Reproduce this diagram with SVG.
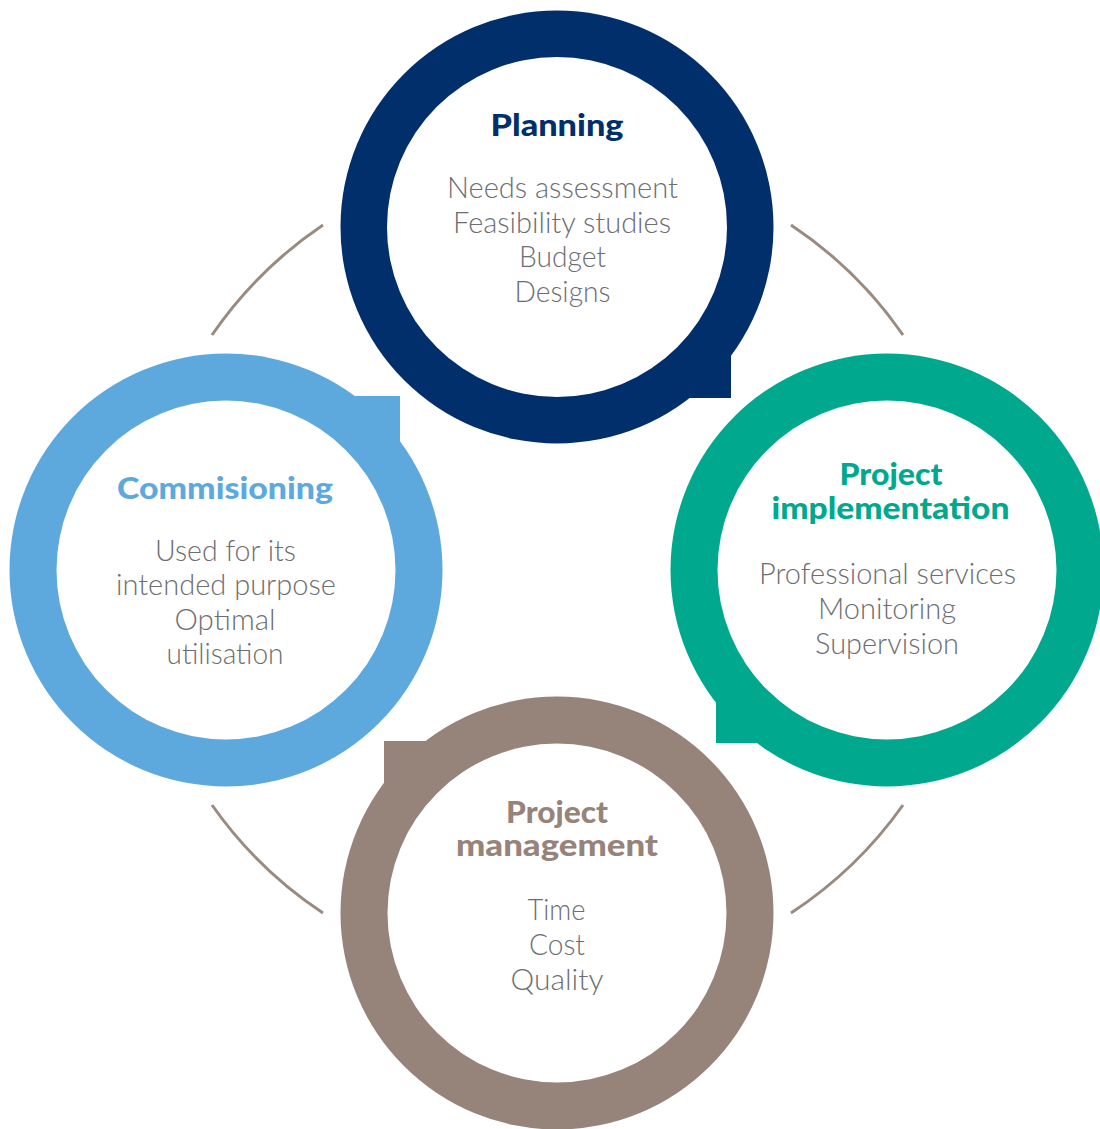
<svg xmlns="http://www.w3.org/2000/svg" width="1100" height="1129" viewBox="0 0 1100 1129">
<style>
.body{font-family:Lato,"Liberation Sans",sans-serif;font-size:29px;font-weight:300;fill:#6d6e71;text-anchor:middle}
.title{font-family:Lato,"Liberation Sans",sans-serif;font-size:30px;font-weight:900;text-anchor:middle}
.arc{fill:none;stroke:#9a8a80;stroke-width:3}
</style>
<rect width="1100" height="1129" fill="#ffffff"/>
<g id="connectors">
<path class="arc" d="M212,335 A417,417 0 0 1 323,225"/>
<path class="arc" d="M791,225 A417,417 0 0 1 903,335"/>
<path class="arc" d="M903,805 A417,417 0 0 1 791,913"/>
<path class="arc" d="M323,913 A417,417 0 0 1 212,805"/>
</g>
<g id="planning">
<circle cx="557" cy="227" r="216.5" fill="#002f6c"/>
<rect x="557" y="227" width="174" height="171" fill="#002f6c"/>
<circle cx="557" cy="227" r="170" fill="#fff"/>
<text class="title" x="557" y="136" fill="#002f6c" textLength="133" lengthAdjust="spacingAndGlyphs">Planning</text>
<text class="body" x="562.5" y="198" textLength="231" lengthAdjust="spacingAndGlyphs">Needs assessment</text>
<text class="body" x="562" y="232.5" textLength="218" lengthAdjust="spacingAndGlyphs">Feasibility studies</text>
<text class="body" x="562.5" y="267" textLength="87" lengthAdjust="spacingAndGlyphs">Budget</text>
<text class="body" x="562.5" y="302" textLength="96" lengthAdjust="spacingAndGlyphs">Designs</text>
</g>
<g id="commissioning">
<circle cx="226" cy="570" r="216.5" fill="#5da9dd"/>
<rect x="226" y="396" width="174" height="174" fill="#5da9dd"/>
<circle cx="226" cy="570" r="169.5" fill="#fff"/>
<text class="title" x="225" y="499" fill="#5da9dd" textLength="216" lengthAdjust="spacingAndGlyphs">Commisioning</text>
<text class="body" x="225.5" y="561" textLength="141" lengthAdjust="spacingAndGlyphs">Used for its</text>
<text class="body" x="226" y="595" textLength="220" lengthAdjust="spacingAndGlyphs">intended purpose</text>
<text class="body" x="225" y="629.5" textLength="101" lengthAdjust="spacingAndGlyphs">Optimal</text>
<text class="body" x="225" y="664" textLength="117" lengthAdjust="spacingAndGlyphs">utilisation</text>
</g>
<g id="implementation">
<circle cx="887" cy="570" r="216.5" fill="#00a88e"/>
<rect x="716" y="570" width="171" height="173" fill="#00a88e"/>
<circle cx="887" cy="570" r="169.5" fill="#fff"/>
<text class="title" x="891" y="484.5" fill="#00a88e" textLength="103" lengthAdjust="spacingAndGlyphs">Project</text>
<text class="title" x="890.5" y="519" fill="#00a88e" textLength="238" lengthAdjust="spacingAndGlyphs">implementation</text>
<text class="body" x="887.5" y="584" textLength="257" lengthAdjust="spacingAndGlyphs">Professional services</text>
<text class="body" x="887" y="618.5" textLength="138" lengthAdjust="spacingAndGlyphs">Monitoring</text>
<text class="body" x="887" y="653.5" textLength="144" lengthAdjust="spacingAndGlyphs">Supervision</text>
</g>
<g id="management">
<circle cx="557" cy="913" r="216.5" fill="#968379"/>
<rect x="384" y="741" width="173" height="172" fill="#968379"/>
<circle cx="557" cy="913" r="169.5" fill="#fff"/>
<text class="title" x="557" y="822.5" fill="#968379" textLength="102" lengthAdjust="spacingAndGlyphs">Project</text>
<text class="title" x="557" y="856" fill="#968379" textLength="202" lengthAdjust="spacingAndGlyphs">management</text>
<text class="body" x="556.5" y="920" textLength="58" lengthAdjust="spacingAndGlyphs">Time</text>
<text class="body" x="557" y="955" textLength="56" lengthAdjust="spacingAndGlyphs">Cost</text>
<text class="body" x="557" y="989.5" textLength="93" lengthAdjust="spacingAndGlyphs">Quality</text>
</g>
</svg>
